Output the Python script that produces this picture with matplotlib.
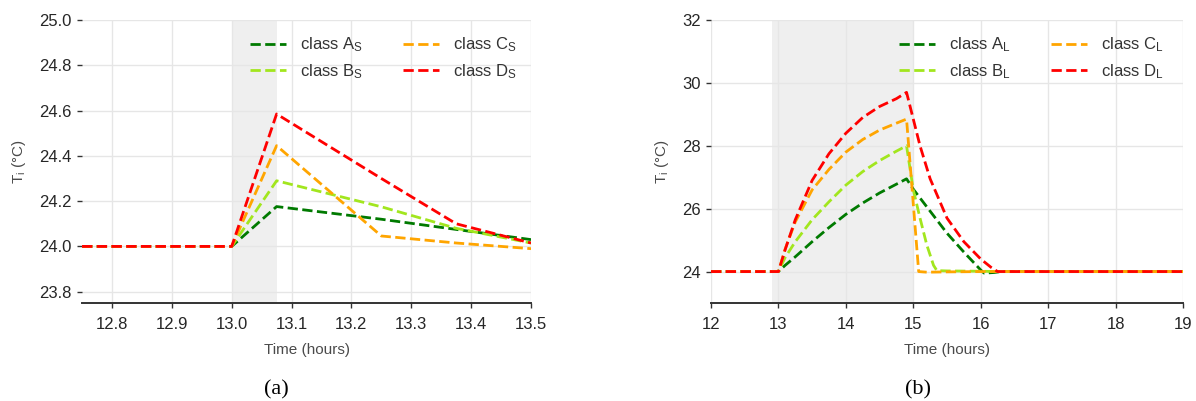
import matplotlib
matplotlib.use("Agg")
import matplotlib.pyplot as plt

plt.rcParams["font.family"] = ["Liberation Sans", "DejaVu Sans"]
plt.rcParams["mathtext.fontset"] = "custom"
plt.rcParams["mathtext.rm"] = "Liberation Sans"
plt.rcParams["mathtext.it"] = "Liberation Sans:italic"

# ---- panel (a): short event ----
time_a = [12.75, 13.0, 13.075, 13.25, 13.375, 13.5]
a_short = [24.0, 24.0, 24.176, 24.12, 24.075, 24.03]
b_short = [24.0, 24.0, 24.29, 24.175, 24.08, 24.015]
c_short = [24.0, 24.0, 24.445, 24.046, 24.015, 23.99]
d_short = [24.0, 24.0, 24.585, 24.30, 24.10, 24.015]
event_a = (13.0, 13.075)

# ---- panel (b): long event ----
time_a_long = [12.0, 13.0, 13.1, 13.25, 13.5, 13.75, 14.0, 14.25, 14.5, 14.75, 14.9,
               15.0, 15.25, 15.5, 15.75, 16.0, 16.05, 16.2, 16.3, 19.0]
a_long = [24.0, 24.0, 24.2, 24.47, 24.95, 25.4, 25.82, 26.18, 26.5, 26.78, 26.95,
          26.62, 25.92, 25.22, 24.62, 24.05, 23.95, 23.97, 24.0, 24.0]

time_b_long = [12.0, 13.0, 13.1, 13.25, 13.5, 13.75, 14.0, 14.25, 14.5, 14.75, 14.9,
               15.0, 15.1, 15.2, 15.3, 15.35, 15.5, 16.0, 16.25, 19.0]
b_long = [24.0, 24.0, 24.45, 24.95, 25.65, 26.22, 26.75, 27.18, 27.53, 27.83, 28.0,
          26.6, 25.7, 24.85, 24.2, 24.03, 24.02, 24.01, 24.0, 24.0]

time_c_long = [12.0, 13.0, 13.1, 13.25, 13.5, 13.75, 14.0, 14.25, 14.5, 14.75, 14.9,
               15.08, 15.2, 15.5, 16.0, 19.0]
c_long = [24.0, 24.0, 24.72, 25.58, 26.6, 27.25, 27.8, 28.2, 28.5, 28.72, 28.85,
          24.0, 23.98, 23.99, 24.0, 24.0]

time_d_long = [12.0, 13.0, 13.1, 13.25, 13.5, 13.75, 14.0, 14.25, 14.5, 14.75, 14.9,
               15.0, 15.1, 15.25, 15.5, 15.75, 16.0, 16.15, 16.25, 19.0]
d_long = [24.0, 24.0, 24.7, 25.65, 26.9, 27.75, 28.4, 28.9, 29.25, 29.5, 29.7,
          28.85, 28.0, 26.95, 25.7, 24.95, 24.4, 24.14, 24.0, 24.0]
event_b = (12.9, 15.0)

colors = ["#007a00", "#a2e61e", "#ffa500", "#ff0000"]
TEXT = "#262626"
LABEL = "#4a4a4a"


def style_axes(ax):
    ax.set_facecolor("white")
    for side in ("top", "right", "left"):
        ax.spines[side].set_visible(False)
    ax.spines["bottom"].set_color("#333333")
    ax.spines["bottom"].set_linewidth(1.4)
    ax.grid(True, color="#e6e6e6", linewidth=1.0, zorder=1)
    ax.set_axisbelow(True)
    ax.tick_params(axis="x", direction="out", length=3.5, width=1.0,
                   colors="#333333", labelcolor=TEXT, labelsize=12, pad=6.5)
    ax.tick_params(axis="y", direction="out", length=3.5, width=1.0,
                   colors="#333333", labelcolor=TEXT, labelsize=12, pad=4)
    ax.set_xlabel("Time (hours)", fontsize=11, color=LABEL, labelpad=8)
    ax.set_ylabel(r"T$_\mathregular{i}$ (°C)", fontsize=11, color=LABEL, labelpad=8)


fig = plt.figure(figsize=(11.96, 4.01), dpi=100)
ax1 = fig.add_axes([0.0686, 0.2444, 0.3754, 0.7056])
ax2 = fig.add_axes([0.5945, 0.2444, 0.3946, 0.7056])

# panel (a)
ax1.axvspan(*event_a, color="#efefef", zorder=0.5, linewidth=0)
series_a = [a_short, b_short, c_short, d_short]
names_a = [r"class A$_\mathregular{S}$", r"class B$_\mathregular{S}$",
           r"class C$_\mathregular{S}$", r"class D$_\mathregular{S}$"]
for ys, c, n in zip(series_a, colors, names_a):
    ax1.plot(time_a, ys, linestyle="--", color=c, linewidth=2, label=n, zorder=3)
ax1.set_xlim(12.75, 13.5)
ax1.set_ylim(23.75, 25.0)
ax1.set_xticks([12.8, 12.9, 13.0, 13.1, 13.2, 13.3, 13.4, 13.5])
ax1.set_yticks([23.8, 24.0, 24.2, 24.4, 24.6, 24.8, 25.0])
ax1.xaxis.set_major_formatter(matplotlib.ticker.FormatStrFormatter("%.1f"))
ax1.yaxis.set_major_formatter(matplotlib.ticker.FormatStrFormatter("%.1f"))
style_axes(ax1)

# panel (b)
ax2.axvspan(*event_b, color="#efefef", zorder=0.5, linewidth=0)
series_b = [(time_a_long, a_long), (time_b_long, b_long),
            (time_c_long, c_long), (time_d_long, d_long)]
names_b = [r"class A$_\mathregular{L}$", r"class B$_\mathregular{L}$",
           r"class C$_\mathregular{L}$", r"class D$_\mathregular{L}$"]
for (xs, ys), c, n in zip(series_b, colors, names_b):
    ax2.plot(xs, ys, linestyle="--", color=c, linewidth=2, label=n, zorder=3)
ax2.set_xlim(12, 19)
ax2.set_ylim(23.0, 32.0)
ax2.set_xticks(range(12, 20))
ax2.set_yticks([24, 26, 28, 30, 32])
style_axes(ax2)

for ax, anchor in ((ax1, (0.968, 0.945)), (ax2, (0.96, 0.945))):
    leg = ax.legend(loc="upper right", bbox_to_anchor=anchor, ncol=2,
                    frameon=False, fontsize=12, borderpad=0, borderaxespad=0,
                    handlelength=2.15, handletextpad=0.85, columnspacing=2.4,
                    labelspacing=0.45)
    for t in leg.get_texts():
        t.set_color("#333333")

fig.text(0.2313, 0.028, "(a)", fontsize=16, family="Liberation Serif",
         ha="center", va="center")
fig.text(0.7676, 0.028, "(b)", fontsize=16, family="Liberation Serif",
         ha="center", va="center")

fig.savefig("out.png", dpi=100, facecolor="white")
